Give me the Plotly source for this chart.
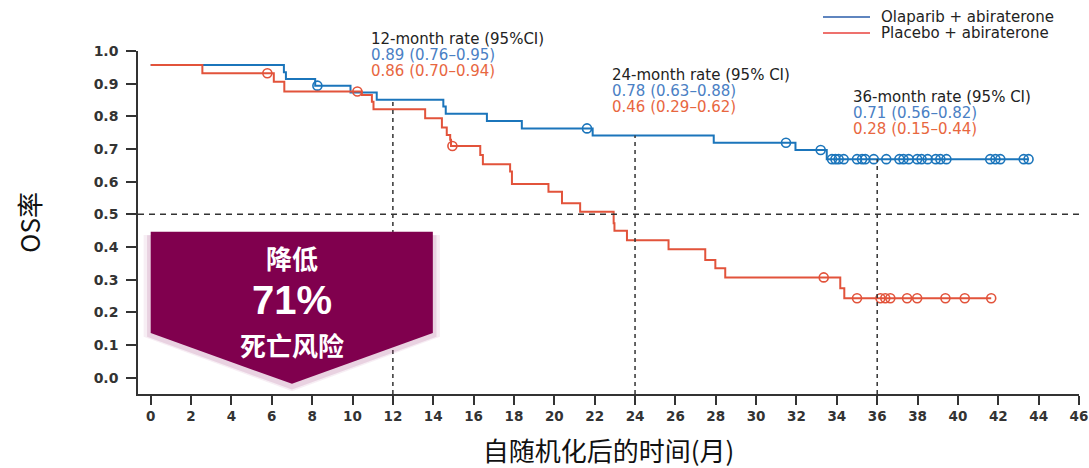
import plotly.graph_objects as go

# ---------------- data ----------------
ola_time = [0, 6.6, 6.7, 8.15, 9.9, 11.2, 14.5, 14.62, 16.66, 18.39, 21.9, 27.9, 31.95, 33.5, 43.5]
ola_surv = [0.957, 0.935, 0.914, 0.894, 0.873, 0.851, 0.830, 0.808, 0.786, 0.763, 0.741, 0.719, 0.697, 0.669, 0.669]
ola_cens = [8.26, 21.62, 31.48, 33.2, 33.76, 33.93, 34.09, 34.34, 35.0, 35.25, 35.41, 35.83, 36.45,
            37.1, 37.3, 37.56, 37.98, 38.2, 38.5, 38.9, 39.13, 39.43, 41.6, 41.86, 42.1, 43.26, 43.5]

pla_time = [0, 2.56, 6.1, 6.62, 10.46, 10.96, 11.04, 13.6, 14.43, 14.67, 14.84, 14.88, 16.33, 16.46,
            17.81, 17.9, 19.71, 20.38, 21.28, 22.94, 22.98, 23.6, 25.66, 27.48, 27.98, 28.47, 34.17,
            34.37, 41.65]
pla_surv = [0.957, 0.932, 0.906, 0.876, 0.865, 0.845, 0.822, 0.794, 0.766, 0.743, 0.728, 0.709, 0.682,
            0.653, 0.631, 0.593, 0.569, 0.534, 0.508, 0.473, 0.450, 0.421, 0.393, 0.360, 0.335, 0.307,
            0.274, 0.243, 0.243]
pla_cens = [5.78, 10.24, 14.95, 33.35, 35.0, 36.16, 36.4, 36.65, 37.48, 37.98, 39.38, 40.34, 41.65]

series_names = ["Olaparib + abiraterone", "Placebo + abiraterone"]

landmarks = [12, 24, 36]
landmark_titles = ["12-month rate (95%CI)", "24-month rate (95% CI)", "36-month rate (95% CI)"]
ola_rates = ["0.89 (0.76\u20130.95)", "0.78 (0.63\u20130.88)", "0.71 (0.56\u20130.82)"]
pla_rates = ["0.86 (0.70\u20130.94)", "0.46 (0.29\u20130.62)", "0.28 (0.15\u20130.44)"]

x_ticks = list(range(0, 47, 2))
y_ticks = [i / 10 for i in range(11)]

badge_lines = ["降低", "71%", "死亡风险"]

# ---------------- styling ----------------
BLUE = "#1b75bb"
RED = "#e2533b"
BLUE_TXT = "#4a80c4"
RED_TXT = "#e8673f"
DARK = "#333333"
BADGE = "#80004e"
FONT = "DejaVu Sans, Liberation Sans, Arial, sans-serif"
CJK = "Noto Sans CJK SC, sans-serif"

W, H = 1089, 468
PL, PR, PT, PB = 138, 1079, 51, 394          # plot area in screen pixels


def px_to_paper(px, py):
    return (px - PL) / (PR - PL), (PB - py) / (PB - PT)


def surv_at(times, survs, t):
    s = survs[0]
    for tt, ss in zip(times, survs):
        if tt <= t:
            s = ss
    return s


fig = go.Figure()

for times, survs, cens, color, name in [
    (ola_time, ola_surv, ola_cens, BLUE, series_names[0]),
    (pla_time, pla_surv, pla_cens, RED, series_names[1]),
]:
    fig.add_trace(go.Scatter(
        x=times, y=survs, mode="lines", line=dict(color=color, width=2, shape="hv"),
        name=name, showlegend=False, hoverinfo="skip"))
    fig.add_trace(go.Scatter(
        x=cens, y=[surv_at(times, survs, t) for t in cens], mode="markers",
        marker=dict(symbol="circle-open", size=9, color=color, line=dict(width=1.6, color=color)),
        name=name + " (censored)", showlegend=False, hoverinfo="skip"))

XMIN, XMAX = -0.63, 46
YMIN, YMAX = -0.05, 1.0

shapes = []
# horizontal median line
shapes.append(dict(type="line", xref="paper", yref="y", x0=0, x1=1, y0=0.5, y1=0.5,
                   line=dict(color=DARK, width=1.5, dash="6px,5px"), layer="above"))
# vertical landmark lines up to the olaparib curve
for lm in landmarks:
    shapes.append(dict(type="line", xref="x", yref="y", x0=lm, x1=lm, y0=YMIN,
                       y1=surv_at(ola_time, ola_surv, lm),
                       line=dict(color=DARK, width=1.5, dash="4px,4px"), layer="above"))


# badge (arrow shaped box) with soft shadow
def badge_path(dy=0.0, grow=0.0):
    x0, x1, xm = 0.0 - grow, 13.98 + grow, 7.0
    yt, ys, yp = 0.447 + grow * 0.005, 0.137, -0.019 - grow * 0.03
    return (f"M {x0},{yt+dy} L {x1},{yt+dy} L {x1},{ys+dy} "
            f"L {xm},{yp+dy} L {x0},{ys+dy} Z")


for g, op in [(0.35, 0.08), (0.18, 0.14)]:
    shapes.append(dict(type="path", xref="x", yref="y", path=badge_path(-0.012, g),
                       fillcolor="rgba(150,40,110,%s)" % op, line=dict(width=0), layer="above"))
shapes.append(dict(type="path", xref="x", yref="y", path=badge_path(),
                   fillcolor=BADGE, line=dict(width=0), layer="above"))

annotations = []
# legend (lines + labels) top right
for i, (name, col) in enumerate(zip(series_names, ["#2a5caa", "#e8423c"])):
    py = 17 + 16 * i
    xa, ya = px_to_paper(823, py)
    xb, _ = px_to_paper(870, py)
    shapes.append(dict(type="line", xref="paper", yref="paper", x0=xa, x1=xb, y0=ya, y1=ya,
                       line=dict(color=col, width=1.6)))
    xt, _ = px_to_paper(879, py)
    annotations.append(dict(xref="paper", yref="paper", x=xt, y=ya, text=name, showarrow=False,
                            xanchor="left", yanchor="middle",
                            font=dict(family=FONT, size=15, color="#222222")))

# landmark rate annotations (screen px of first line)
ann_px = [369, 610, 851]
ann_py = [39, 75, 97]
for px, py, t1, t2, t3 in zip(ann_px, ann_py, landmark_titles, ola_rates, pla_rates):
    for k, (txt, col) in enumerate([(t1, "#222222"), (t2, BLUE_TXT), (t3, RED_TXT)]):
        xp, yp = px_to_paper(px, py + 16 * k)
        annotations.append(dict(xref="paper", yref="paper", x=xp, y=yp, text=txt, showarrow=False,
                                xanchor="left", yanchor="middle",
                                font=dict(family=FONT, size=15, color=col)))

# badge texts
for txt, y, size, fam in zip(badge_lines, [0.368, 0.237, 0.103], [26, 40, 26],
                             [CJK, "Liberation Sans, Arial, sans-serif", CJK]):
    annotations.append(dict(xref="x", yref="y", x=7.0, y=y, text="<b>%s</b>" % txt, showarrow=False,
                            xanchor="center", yanchor="middle",
                            font=dict(family=fam, size=size, color="white")))

fig.update_layout(
    width=W, height=H, autosize=False,
    margin=dict(l=PL, r=W - PR, t=PT, b=H - PB),
    plot_bgcolor="white", paper_bgcolor="white",
    showlegend=False,
    shapes=shapes, annotations=annotations,
    xaxis=dict(range=[XMIN, XMAX], tickvals=x_ticks, ticktext=[str(v) for v in x_ticks],
               showline=True, linecolor=DARK, linewidth=1.5, ticks="outside", ticklen=9,
               tickwidth=1.5, tickcolor=DARK, showgrid=False, zeroline=False, automargin=False,
               tickfont=dict(family="DejaVu Sans, sans-serif", size=13.5, color=DARK, weight="bold"),
               title=dict(text="自随机化后的时间(月)", font=dict(family=CJK, size=26, color="#111111"),
                          standoff=20),
               fixedrange=True),
    yaxis=dict(range=[YMIN, YMAX], tickvals=y_ticks, ticktext=["%.1f" % v for v in y_ticks],
               showline=True, linecolor=DARK, linewidth=1.5, ticks="outside", ticklen=10,
               tickwidth=1.5, tickcolor=DARK, showgrid=False, zeroline=False, automargin=False,
               ticklabelstandoff=5,
               tickfont=dict(family="DejaVu Sans, sans-serif", size=14, color=DARK, weight="bold"),
               title=dict(text="OS率", font=dict(family=CJK, size=26, color="#111111"), standoff=46),
               fixedrange=True),
)

# remove the browser's default 8px body margin so the 1089x468 figure fills the window exactly
fig.write_html("out.html", config={"displayModeBar": False},
               post_script="document.body.style.margin='0px';")
